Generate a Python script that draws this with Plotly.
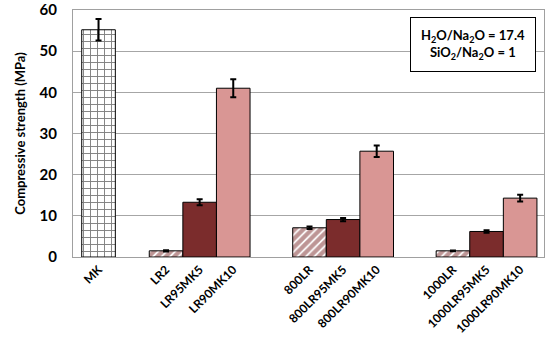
import plotly.graph_objects as go

categories = ["MK", "LR2", "LR95MK5", "LR90MK10", "800LR", "800LR95MK5",
              "800LR90MK10", "1000LR", "1000LR95MK5", "1000LR90MK10"]
strength = [55.2, 1.5, 13.3, 41.0, 7.1, 9.1, 25.7, 1.5, 6.2, 14.3]
errors = [2.6, 0.15, 0.7, 2.2, 0.3, 0.4, 1.4, 0.1, 0.3, 0.8]
# group layout: (first index, count)
groups = [(0, 1), (1, 3), (4, 3), (7, 3)]
group_starts = [0.76, 2.77, 7.04, 11.31]

xpos = []
for (i0, n), s in zip(groups, group_starts):
    for k in range(n):
        xpos.append(s + k)

DARK = "#7B2C2C"
PINK = "#D99694"

kinds = ["grid", "hatch", "dark", "pink", "hatch", "dark", "pink", "hatch", "dark", "pink"]

fig = go.Figure()

def add(kind, color, pattern):
    idx = [i for i, k in enumerate(kinds) if k == kind]
    fig.add_trace(go.Bar(
        x=[xpos[i] for i in idx],
        y=[strength[i] for i in idx],
        width=1.0,
        marker=dict(color=color, line=dict(color="black", width=1), pattern=pattern),
        error_y=dict(type="data", array=[errors[i] for i in idx], color="black",
                     thickness=2, width=3),
        showlegend=False,
        hoverinfo="skip",
    ))

add("grid", "white", dict(shape="+", fgcolor="black", bgcolor="white", size=7, solidity=0.25))
add("hatch", "white", dict(shape="/", fgcolor=DARK, bgcolor="white", size=6, solidity=0.7))
add("dark", DARK, None)
add("pink", PINK, None)

fig.update_layout(
    width=550, height=351,
    margin=dict(l=73, r=6, t=10, b=94),
    plot_bgcolor="white", paper_bgcolor="white",
    barmode="overlay",
    font=dict(family="Lato", color="black"),
    xaxis=dict(range=[0, 14.02], tickvals=xpos, ticktext=categories,
               tickangle=-45, automargin=False,
               tickfont=dict(size=12, family="Lato", color="black", weight="bold"),
               showgrid=False, showline=True, linecolor="#A0A0A0", mirror=True,
               ticks="", zeroline=False),
    yaxis=dict(range=[0, 60], dtick=10, showgrid=True, gridcolor="#A6A6A6",
               showline=True, linecolor="#A0A0A0", mirror=True, ticks="",
               automargin=False, ticklabelstandoff=12,
               tickfont=dict(size=15, family="Lato", color="black", weight="bold"),
               title=dict(text="Compressive strength (MPa)",
                          font=dict(size=13, family="Lato", weight="bold"), standoff=11),
               zeroline=False),
    annotations=[dict(
        xref="paper", yref="paper", x=0.7155, y=0.972, xanchor="left", yanchor="top",
        text="H<sub>2</sub>O/Na<sub>2</sub>O = 17.4<br>SiO<sub>2</sub>/Na<sub>2</sub>O = 1",
        showarrow=False, font=dict(size=13, family="Lato", color="black", weight="bold"),
        bordercolor="black", borderwidth=1, bgcolor="white", borderpad=9,
        align="center", width=106,
    )],
)

fig.write_html("out.html", config={"displayModeBar": False},
               post_script="document.body.style.margin='0';document.body.style.overflow='hidden';")
